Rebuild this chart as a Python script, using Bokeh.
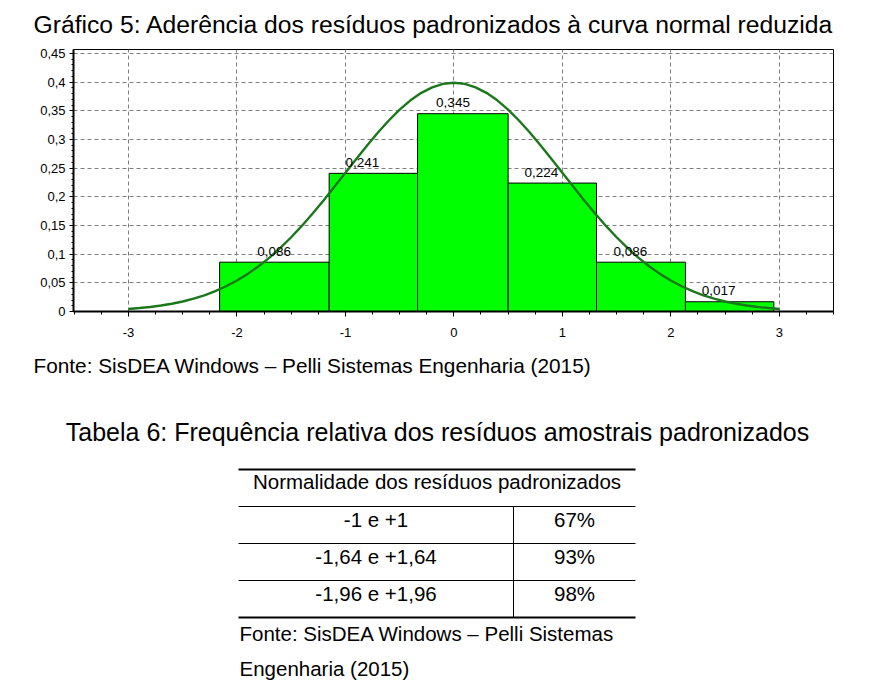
from bokeh.plotting import figure
from bokeh.models import Range1d, FixedTicker, CustomJSTickFormatter
from bokeh.layouts import column
from bokeh.core.properties import value
from bokeh.embed import file_html
from bokeh.resources import INLINE

# histogram of the standardized residuals
bin_edges = [-2.16, -1.15, -0.335, 0.50, 1.315, 2.135, 2.95]
freq = [0.086, 0.241, 0.345, 0.224, 0.086, 0.017]

# normal curve
curve_x = [-3.0, -2.9, -2.8, -2.7, -2.6, -2.5, -2.4, -2.3, -2.2, -2.1,
           -2.0, -1.9, -1.8, -1.7, -1.6, -1.5, -1.4, -1.3, -1.2, -1.1,
           -1.0, -0.9, -0.8, -0.7, -0.6, -0.5, -0.4, -0.3, -0.2, -0.1,
           0.0, 0.1, 0.2, 0.3, 0.4, 0.5, 0.6, 0.7, 0.8, 0.9,
           1.0, 1.1, 1.2, 1.3, 1.4, 1.5, 1.6, 1.7, 1.8, 1.9,
           2.0, 2.1, 2.2, 2.3, 2.4, 2.5, 2.6, 2.7, 2.8, 2.9, 3.0]
curve_y = [0.0044, 0.0060, 0.0079, 0.0104, 0.0136, 0.0175, 0.0224, 0.0283, 0.0355, 0.0440,
           0.0540, 0.0656, 0.0790, 0.0940, 0.1109, 0.1295, 0.1497, 0.1714, 0.1942, 0.2179,
           0.2420, 0.2661, 0.2897, 0.3123, 0.3332, 0.3521, 0.3683, 0.3814, 0.3910, 0.3970,
           0.3989, 0.3970, 0.3910, 0.3814, 0.3683, 0.3521, 0.3332, 0.3123, 0.2897, 0.2661,
           0.2420, 0.2179, 0.1942, 0.1714, 0.1497, 0.1295, 0.1109, 0.0940, 0.0790, 0.0656,
           0.0540, 0.0440, 0.0355, 0.0283, 0.0224, 0.0175, 0.0136, 0.0104, 0.0079, 0.0060, 0.0044]

x_ticks = [-3, -2, -1, 0, 1, 2, 3]
y_ticks = [0, 0.05, 0.1, 0.15, 0.2, 0.25, 0.3, 0.35, 0.4, 0.45]

# table 6
row_names = ["-1 e +1", "-1,64 e +1,64", "-1,96 e +1,96"]
row_values = ["67%", "93%", "98%"]

chart_title = "Gráfico 5: Aderência dos resíduos padronizados à curva normal reduzida"
table_title = "Tabela 6: Frequência relativa dos resíduos amostrais padronizados"
table_header = "Normalidade dos resíduos padronizados"
source_text = "Fonte: SisDEA Windows – Pelli Sistemas Engenharia (2015)"
source_lines = ["Fonte: SisDEA Windows – Pelli Sistemas", "Engenharia (2015)"]

FONT = value("Liberation Sans")
W = 864


def blank_fig(h):
    # plain drawing area, one data unit = one pixel, y going down
    f = figure(width=W, height=h, x_range=Range1d(0, W), y_range=Range1d(h, 0),
               toolbar_location=None, output_backend="svg", min_border=0, frame_align=False)
    f.axis.visible = False
    f.grid.visible = False
    f.outline_line_color = None
    return f


def put_text(f, xs, baselines, texts, size, align="left"):
    # texts are placed by their middle, baseline sits about 0.35em lower
    ys = [b - 0.35 * size for b in baselines]
    f.text(x=xs, y=ys, text=texts, text_font=FONT, text_font_size="%.1fpx" % size,
           text_align=align, text_baseline="middle", text_color="black")


#title strip
top = blank_fig(40)
put_text(top, [33], [33], [chart_title], 24.7)

#chart
p = figure(width=W, height=308, x_range=Range1d(-3.507, 3.50), y_range=Range1d(0, 0.457),
           toolbar_location=None, output_backend="svg", frame_align=False,
           min_border_left=73, min_border_right=31, min_border_top=9, min_border_bottom=37)
p.quad(left=bin_edges[:-1], right=bin_edges[1:], top=freq, bottom=0,
       fill_color="#00ff00", line_color="black", line_width=1)
p.line(curve_x, curve_y, line_color="#1a781a", line_width=2.4)

labels = [("%.3f" % v).replace(".", ",") for v in freq]
p.text(x=bin_edges[1:], y=freq, text=labels, x_offset=-72, y_offset=-11,
       text_font=FONT, text_font_size="13.5px", text_align="left",
       text_baseline="middle", text_color="black")

p.xaxis.ticker = FixedTicker(ticks=x_ticks, minor_ticks=[t / 4 for t in range(-14, 15)])
p.yaxis.ticker = FixedTicker(ticks=y_ticks, minor_ticks=[t / 100 for t in range(0, 46)])
p.xaxis.formatter = CustomJSTickFormatter(code="return tick.toFixed(0)")
p.yaxis.formatter = CustomJSTickFormatter(
    code="return tick.toFixed(2).replace(/0+$/, '').replace(/\\.$/, '').replace('.', ',')")
for ax in [p.xaxis[0], p.yaxis[0]]:
    ax.axis_line_width = 2
    ax.axis_line_color = "black"
    ax.major_tick_line_color = "black"
    ax.minor_tick_line_color = "black"
    ax.major_label_text_font = "Liberation Sans"
    ax.major_label_text_font_size = "13px"
    ax.major_label_text_color = "black"
    ax.major_tick_in = 0
    ax.minor_tick_in = 0
p.xaxis.major_tick_out = 5
p.xaxis.minor_tick_out = 3
p.xaxis.major_label_standoff = 11
p.yaxis.major_tick_out = 4
p.yaxis.minor_tick_out = 2
p.yaxis.major_label_standoff = 4

p.grid.grid_line_color = "#808080"
p.grid.grid_line_dash = "4 3"
p.grid.grid_line_width = 1
p.outline_line_color = "black"
p.outline_line_width = 1

#source + table
bot = blank_fig(342)
put_text(bot, [33], [24], [source_text], 20.8)
put_text(bot, [437], [92], [table_title], 25, "center")

tab_left, tab_right, tab_mid = 238, 635, 513
tab_top = 121
head_line = 158
row_h = 37
tab_bottom = head_line + 3 * row_h
bot.segment(x0=[tab_left, tab_left], x1=[tab_right, tab_right], y0=[tab_top, tab_bottom],
            y1=[tab_top, tab_bottom], line_color="black", line_width=2)
inner_y = [head_line + i * row_h for i in range(3)]
bot.segment(x0=[tab_left] * 3, x1=[tab_right] * 3, y0=inner_y, y1=inner_y,
            line_color="black", line_width=1)
bot.segment(x0=[tab_mid], x1=[tab_mid], y0=[head_line], y1=[tab_bottom],
            line_color="black", line_width=1)

put_text(bot, [(tab_left + tab_right) / 2], [140], [table_header], 20.5, "center")
base_y = [head_line + 20 + i * row_h for i in range(len(row_names))]
put_text(bot, [(tab_left + tab_mid) / 2] * len(row_names), base_y, row_names, 20.5, "center")
put_text(bot, [(tab_mid + tab_right) / 2] * len(row_values), base_y, row_values, 20.5, "center")
put_text(bot, [239, 239], [292, 327], source_lines, 20.5)

layout = column(top, p, bot, spacing=0)
open("out.html", "w").write(file_html(layout, INLINE))
